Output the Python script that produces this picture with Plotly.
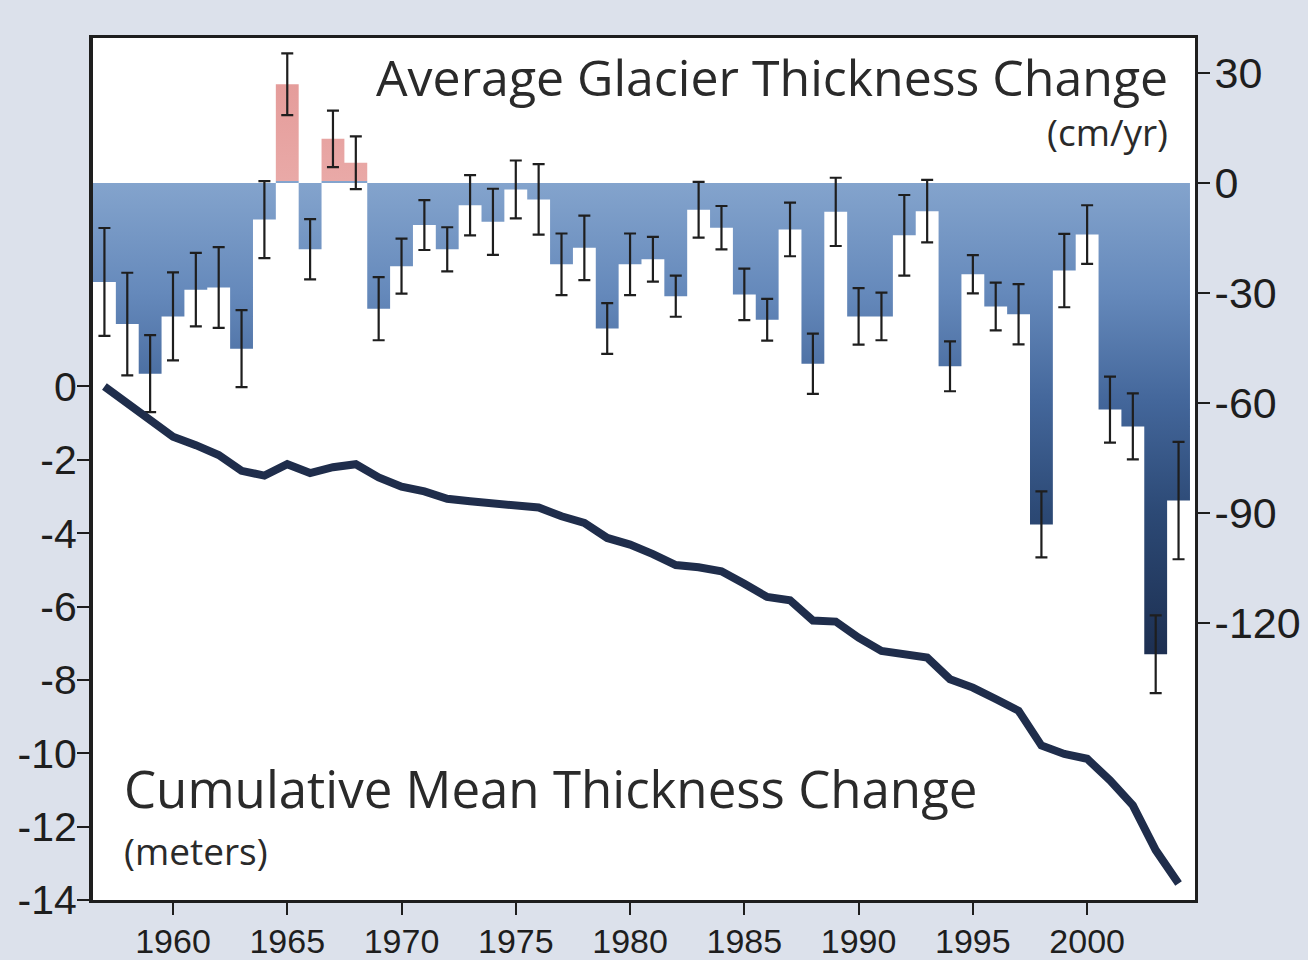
import plotly.graph_objects as go

years = list(range(1957, 2005))

# Average glacier thickness change (cm/yr)
rate_cm = [-27.0, -38.5, -52.0, -36.4, -29.1, -28.5, -45.2, -10.0, 26.9, -18.1,
           12.0, 5.5, -34.3, -22.7, -11.5, -18.1, -6.1, -10.6, -1.8, -4.5,
           -22.2, -17.7, -39.7, -22.2, -20.8, -30.9, -7.3, -12.2, -30.4, -37.3,
           -12.7, -49.3, -7.9, -36.4, -36.4, -14.3, -7.7, -50.0, -24.9, -33.7,
           -35.8, -93.1, -23.9, -14.1, -61.8, -66.4, -128.5, -86.6]

# Error bar half-widths (cm/yr)
rate_err = [14.7, 14.0, 10.5, 12.0, 10.0, 11.0, 10.5, 10.5, 8.4, 8.2,
            7.7, 7.2, 8.6, 7.5, 6.8, 6.0, 8.2, 9.0, 7.9, 9.6,
            8.4, 8.8, 6.9, 8.4, 6.1, 5.6, 7.6, 5.9, 7.0, 5.7,
            7.3, 8.2, 9.3, 7.7, 6.5, 11.0, 8.5, 6.8, 5.2, 6.5,
            8.2, 9.0, 10.0, 8.0, 9.0, 9.0, 10.6, 16.0]

# Cumulative mean thickness change (m)
cumulative_m = [0.0, -0.45, -0.96, -1.37, -1.6, -1.87, -2.30, -2.43, -2.12, -2.36,
                -2.2, -2.12, -2.48, -2.73, -2.86, -3.06, -3.13, -3.20, -3.23, -3.30,
                -3.54, -3.72, -4.13, -4.31, -4.57, -4.87, -4.93, -5.04, -5.38, -5.74,
                -5.83, -6.38, -6.41, -6.85, -7.21, -7.30, -7.39, -7.98, -8.21, -8.52,
                -8.84, -9.79, -10.02, -10.15, -10.74, -11.42, -12.64, -13.55]

x_ticks = [1960, 1965, 1970, 1975, 1980, 1985, 1990, 1995, 2000]
left_ticks = [0, -2, -4, -6, -8, -10, -12, -14]
right_ticks = [30, 0, -30, -60, -90, -120]

# bar edges for step-shaped fill (each bar spans one year)
edges_x = [y - 0.5 for y in years] + [years[-1] + 0.5]
edges_y = rate_cm + [rate_cm[-1]]

g_lo, g_hi = -135, 30
def pos(v):
    return (v - g_lo) / (g_hi - g_lo)

colorscale = [
    [0.0, "#1b2b4c"],
    [pos(-120), "#203559"],
    [pos(-90), "#2c4975"],
    [pos(-60), "#43669a"],
    [pos(-30), "#6589bb"],
    [pos(0.4), "#84a4cd"],
    [pos(0.6), "#e9a9a7"],
    [1.0, "#e49b99"],
]

fig = go.Figure()

fig.add_trace(go.Scatter(
    x=edges_x, y=edges_y, yaxis="y", mode="lines",
    line=dict(shape="hv", width=0, color="rgba(0,0,0,0)"),
    fill="tozeroy",
    fillgradient=dict(type="vertical", colorscale=colorscale, start=g_lo, stop=g_hi),
    hoverinfo="skip", showlegend=False,
))

fig.add_trace(go.Scatter(
    x=years, y=rate_cm, yaxis="y", mode="markers",
    marker=dict(size=1, color="rgba(0,0,0,0)"),
    error_y=dict(type="data", array=rate_err, visible=True,
                 color="#1e1e1e", thickness=2.2, width=6),
    showlegend=False,
))

fig.add_trace(go.Scatter(
    x=years, y=cumulative_m, yaxis="y2", mode="lines",
    line=dict(color="#1f2d4b", width=8),
    showlegend=False,
))

label_font = "Open Sans, sans-serif"
num_font = "Liberation Sans, Arial, sans-serif"

fig.update_layout(
    width=1308, height=960,
    margin=dict(l=93, r=113, t=38, b=60, autoexpand=False),
    paper_bgcolor="#dce1eb",
    plot_bgcolor="#ffffff",
    showlegend=False,
    xaxis=dict(
        range=[1956.5, 2004.72], tickvals=x_ticks, ticks="outside", ticklen=12,
        tickwidth=2, tickcolor="#1e1e1e", showgrid=False, zeroline=False,
        showline=True, linewidth=3, linecolor="#1e1e1e", mirror=True,
        tickfont=dict(family=num_font, size=34, color="#1e1e1e"),
        ticklabelstandoff=-3, automargin=False,
    ),
    yaxis=dict(
        side="right", range=[-195.5, 39.5], tickvals=right_ticks,
        ticktext=[str(v) for v in right_ticks],
        ticks="outside", ticklen=12, tickwidth=2, tickcolor="#1e1e1e",
        showgrid=False, zeroline=False, showline=True, linewidth=3,
        linecolor="#1e1e1e", tickfont=dict(family=num_font, size=43, color="#1e1e1e"),
        ticklabelstandoff=-4, automargin=False,
    ),
    yaxis2=dict(
        side="left", overlaying="y", range=[-14, 9.5], tickvals=left_ticks,
        ticktext=[str(v) for v in left_ticks],
        ticks="outside", ticklen=12, tickwidth=2, tickcolor="#1e1e1e",
        showgrid=False, zeroline=False, showline=True, linewidth=4,
        linecolor="#1e1e1e", tickfont=dict(family=num_font, size=41, color="#1e1e1e"),
        ticklabelstandoff=-8, automargin=False,
    ),
    annotations=[
        dict(text="Average Glacier Thickness Change", xref="paper", yref="paper",
             x=0.9773, y=0.9548, xanchor="right", yanchor="middle", showarrow=False,
             font=dict(family=label_font, size=50, color="#2a2a2a")),
        dict(text="(cm/yr)", xref="paper", yref="paper",
             x=0.9773, y=0.891, xanchor="right", yanchor="middle", showarrow=False,
             font=dict(family=label_font, size=37, color="#2a2a2a")),
        dict(text="Cumulative Mean Thickness Change", xref="paper", yref="paper",
             x=0.0263, y=0.13, xanchor="left", yanchor="middle", showarrow=False,
             font=dict(family=label_font, size=51, color="#2a2a2a")),
        dict(text="(meters)", xref="paper", yref="paper",
             x=0.0263, y=0.058, xanchor="left", yanchor="middle", showarrow=False,
             font=dict(family=label_font, size=37, color="#2a2a2a")),
    ],
)

fig.write_html(
    "out.html",
    config={"displayModeBar": False},
    post_script="document.body.style.margin='0';document.body.style.background='#dce1eb';",
)
